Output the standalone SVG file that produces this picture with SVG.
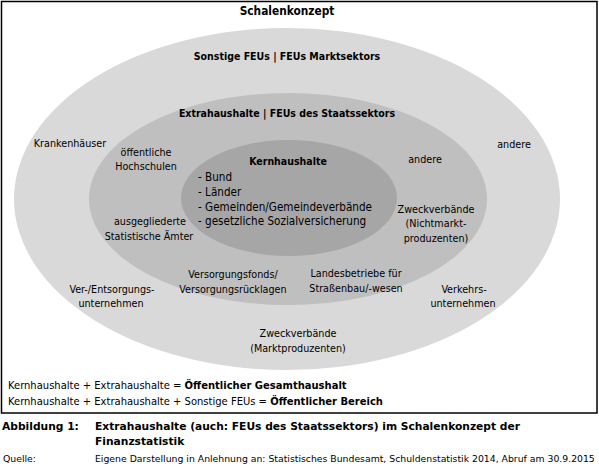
<svg xmlns="http://www.w3.org/2000/svg" width="599" height="467" viewBox="0 0 599 467">
<style>
text{font-family:"DejaVu Sans Condensed","DejaVu Sans",sans-serif;fill:#000;}
.t{font-size:10.7px;}
.k{font-size:11.6px;}
.c{text-anchor:middle;}
.h{font-size:10.5px;font-weight:bold;}
.ttl{font-size:11.8px;font-weight:bold;}
.leg{font-size:11.1px;}
.cap{font-family:"DejaVu Sans",sans-serif;font-size:10.7px;font-weight:bold;}
.src{font-family:"DejaVu Sans",sans-serif;font-size:9.3px;}
</style>
<rect x="0" y="0" width="599" height="467" fill="#fff"/>
<rect id="frame" x="1.5" y="1.5" width="595.5" height="411.5" fill="#fff" stroke="#000" stroke-width="1.5"/>
<g id="connectors"/>
<g id="ring-outer">
<ellipse cx="287" cy="199" rx="273" ry="171" fill="#d9d9d9"/>
<text class="h c" x="287" y="60">Sonstige FEUs | FEUs Marktsektors</text>
</g>
<g id="ring-middle">
<ellipse cx="288" cy="199" rx="199" ry="106" fill="#bfbfbf"/>
<text class="h c" x="287" y="117">Extrahaushalte | FEUs des Staatssektors</text>
</g>
<g id="ring-inner">
<ellipse cx="289" cy="198" rx="108" ry="58" fill="#a6a6a6"/>
<text class="h c" x="288" y="165">Kernhaushalte</text>
<text class="k" x="198" y="181">- Bund</text>
<text class="k" x="198" y="196">- Länder</text>
<text class="k" x="198" y="211">- Gemeinden/Gemeindeverbände</text>
<text class="k" x="198" y="225">- gesetzliche Sozialversicherung</text>
</g>
<g id="title"><text class="ttl c" x="287" y="15">Schalenkonzept</text></g>
<g id="krankenhaeuser"><text class="t c" x="70" y="147">Krankenhäuser</text></g>
<g id="hochschulen"><text class="t c" x="146" y="156">öffentliche</text><text class="t c" x="146" y="170">Hochschulen</text></g>
<g id="aemter"><text class="t c" x="150" y="225">ausgegliederte</text><text class="t c" x="149" y="240">Statistische Ämter</text></g>
<g id="andere-outer"><text class="t c" x="514" y="148">andere</text></g>
<g id="andere-middle"><text class="t c" x="425" y="163">andere</text></g>
<g id="zweck-nicht"><text class="t c" x="436" y="213">Zweckverbände</text><text class="t c" x="436" y="227">(Nichtmarkt-</text><text class="t c" x="436" y="242">produzenten)</text></g>
<g id="versorgungsfonds"><text class="t c" x="233" y="278">Versorgungsfonds/</text><text class="t c" x="233" y="293">Versorgungsrücklagen</text></g>
<g id="landesbetriebe"><text class="t c" x="356" y="277">Landesbetriebe für</text><text class="t c" x="356" y="292">Straßenbau/-wesen</text></g>
<g id="entsorgung"><text class="t c" x="112" y="293">Ver-/Entsorgungs-</text><text class="t c" x="111" y="307">unternehmen</text></g>
<g id="verkehr"><text class="t c" x="464" y="293">Verkehrs-</text><text class="t c" x="463" y="307">unternehmen</text></g>
<g id="zweck-markt"><text class="t c" x="298" y="337">Zweckverbände</text><text class="t c" x="298" y="352">(Marktproduzenten)</text></g>
<g id="legend">
<text class="leg" x="8" y="389">Kernhaushalte + Extrahaushalte = <tspan font-weight="bold">Öffentlicher Gesamthaushalt</tspan></text>
<text class="leg" x="8" y="405">Kernhaushalte + Extrahaushalte + Sonstige FEUs = <tspan font-weight="bold">Öffentlicher Bereich</tspan></text>
</g>
<g id="caption">
<text class="cap" x="2" y="430">Abbildung 1:</text>
<text class="cap" x="95" y="430">Extrahaushalte (auch: FEUs des Staatssektors) im Schalenkonzept der</text>
<text class="cap" x="95" y="445">Finanzstatistik</text>
<text class="src" x="3" y="462">Quelle:</text>
<text class="src" x="95" y="462">Eigene Darstellung in Anlehnung an: Statistisches Bundesamt, Schuldenstatistik 2014, Abruf am 30.9.2015</text>
</g>
</svg>
